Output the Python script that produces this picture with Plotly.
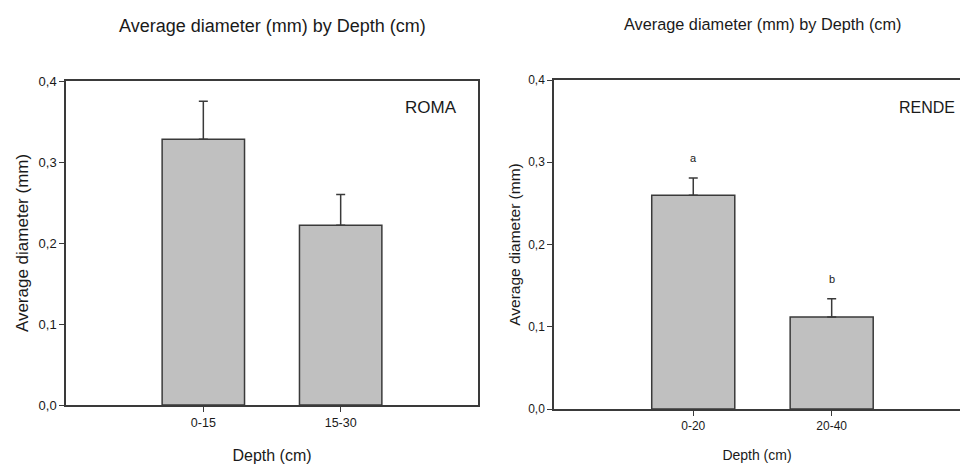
import plotly.graph_objects as go

# ---- data ----
roma_depths = ["0-15", "15-30"]
roma_means = [0.328, 0.222]
roma_err = [0.047, 0.038]

rende_depths = ["0-20", "20-40"]
rende_means = [0.260, 0.112]
rende_err = [0.021, 0.022]
rende_letters = ["a", "b"]

main_title = "Average diameter (mm) by Depth (cm)"
y_title = "Average diameter (mm)"
x_title = "Depth (cm)"
site_names = ["ROMA", "RENDE"]

W, H = 960, 464
FONT = "Liberation Sans, Arial, sans-serif"
LINE = "#3a3a3a"
TXT = "#1a1a1a"
BAR_FILL = "#c0c0c0"


def px_x(p):
    return p / W


def px_y(p):
    return (H - p) / H


fig = go.Figure()

fig.add_trace(go.Bar(
    x=roma_depths, y=roma_means, width=0.6,
    marker=dict(color=BAR_FILL, line=dict(color=LINE, width=1.5)),
    error_y=dict(type="data", symmetric=False, array=roma_err,
                 arrayminus=[0] * len(roma_err), color=LINE, thickness=1.5, width=4.5),
    xaxis="x", yaxis="y", showlegend=False,
))

fig.add_trace(go.Bar(
    x=rende_depths, y=rende_means, width=0.6,
    marker=dict(color=BAR_FILL, line=dict(color=LINE, width=1.5)),
    error_y=dict(type="data", symmetric=False, array=rende_err,
                 arrayminus=[0] * len(rende_err), color=LINE, thickness=1.5, width=4.5),
    xaxis="x2", yaxis="y2", showlegend=False,
))

common_y = dict(range=[0, 0.4], dtick=0.1, tickformat=".1f", showgrid=False,
                zeroline=False, showline=True, linecolor=LINE, linewidth=1.5,
                ticks="outside", ticklen=5, tickcolor=LINE, tickwidth=1.2,
                automargin=False)
common_x = dict(showgrid=False, zeroline=False, showline=True, linecolor=LINE,
                linewidth=1.5, ticks="outside", ticklen=5, tickcolor=LINE, tickwidth=1.2,
                type="category", automargin=False)

fig.update_layout(
    width=W, height=H,
    margin=dict(l=0, r=0, t=0, b=0),
    paper_bgcolor="white", plot_bgcolor="white",
    separators=", ",
    font=dict(family=FONT, color=TXT),
    bargap=0.4,
    xaxis=dict(common_x, domain=[px_x(66), px_x(478)], range=[-1.0, 2.0], anchor="y",
               mirror=True, tickfont=dict(size=12.5),
               title=dict(text=x_title, font=dict(size=16), standoff=21)),
    yaxis=dict(common_y, domain=[px_y(405), px_y(81)], anchor="x", mirror=True,
               tickfont=dict(size=13),
               title=dict(text=y_title, font=dict(size=17), standoff=6)),
    xaxis2=dict(common_x, domain=[px_x(554), 1.0], range=[-1.006, 1.927], anchor="y2",
                mirror=True, tickfont=dict(size=12),
                title=dict(text=x_title, font=dict(size=14), standoff=18)),
    yaxis2=dict(common_y, domain=[px_y(409), px_y(80)], anchor="x2", mirror=False,
                tickfont=dict(size=12),
                title=dict(text=y_title, font=dict(size=15.5), standoff=4)),
)

annotations = [
    dict(text=main_title, xref="paper", yref="paper", x=px_x(272), y=px_y(26),
         xanchor="center", yanchor="middle", showarrow=False, font=dict(size=18)),
    dict(text=main_title, xref="paper", yref="paper", x=px_x(762), y=px_y(24),
         xanchor="center", yanchor="middle", showarrow=False, font=dict(size=16.3)),
    dict(text=site_names[0], xref="paper", yref="paper", x=px_x(431), y=px_y(107),
         xanchor="center", yanchor="middle", showarrow=False, font=dict(size=17)),
    dict(text=site_names[1], xref="paper", yref="paper", x=px_x(897), y=px_y(107),
         xanchor="left", yanchor="middle", showarrow=False, font=dict(size=16)),
]
for cat, m, e, letter in zip(rende_depths, rende_means, rende_err, rende_letters):
    annotations.append(dict(text=letter, xref="x2", yref="y2", x=cat, y=m + e,
                            xanchor="center", yanchor="middle", yshift=20,
                            showarrow=False, font=dict(size=11)))
fig.update_layout(annotations=annotations)

fig.write_html("out.html")
